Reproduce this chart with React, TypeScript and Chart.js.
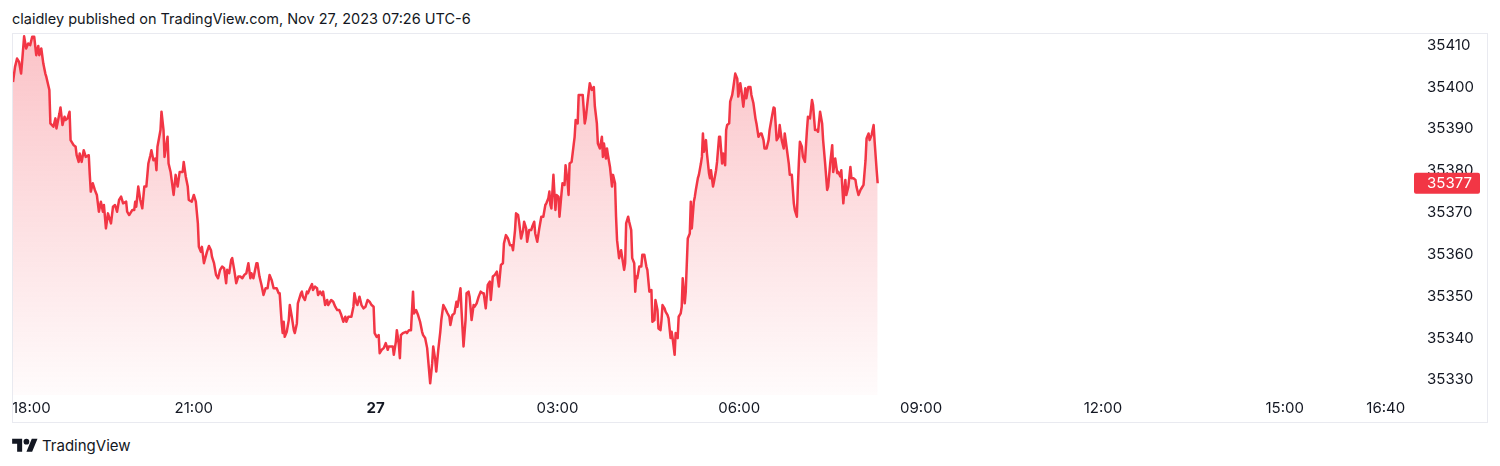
import React, { useEffect, useRef } from "react";
import { Chart, registerables } from "chart.js";

Chart.register(...registerables);

const HEADER_TEXT = "claidley published on TradingView.com, Nov 27, 2023 07:26 UTC-6";
const BRAND_TEXT = "TradingView";

// minutes elapsed since 18:00 (Nov 26)
const minutesSince1800: number[] = [
  1, 3, 5, 7, 9, 10, 12, 14, 16, 18,
  20, 22, 24, 26, 27, 29, 31, 33, 34, 37,
  38, 41, 43, 44, 47, 48, 50, 52, 53, 55,
  57, 58, 61, 63, 64, 66, 67, 69, 71, 73,
  76, 77, 78, 80, 82, 84, 86, 88, 90, 91,
  93, 95, 98, 100, 102, 104, 106, 108, 110, 113,
  114, 116, 119, 121, 122, 123, 125, 127, 129, 131,
  133, 135, 137, 138, 140, 142, 143, 144, 147, 148,
  150, 151, 154, 155, 157, 160, 162, 164, 166, 169,
  170, 172, 174, 175, 178, 180, 182, 184, 185, 187,
  188, 190, 193, 195, 197, 198, 200, 202, 204, 206,
  208, 210, 212, 213, 215, 217, 218, 220, 222, 224,
  226, 228, 230, 232, 234, 236, 237, 239, 242, 243,
  245, 247, 249, 251, 253, 255, 257, 259, 262, 264,
  265, 267, 268, 269, 270, 272, 274, 275, 277, 279,
  280, 282, 283, 286, 287, 288, 290, 292, 293, 295,
  297, 298, 300, 302, 303, 305, 307, 308, 310, 312,
  313, 316, 318, 320, 322, 324, 326, 328, 330, 331,
  333, 336, 338, 339, 341, 342, 344, 346, 348, 350,
  352, 354, 356, 358, 359, 361, 363, 364, 366, 368,
  370, 372, 373, 375, 377, 378, 380, 381, 383, 384,
  385, 387, 390, 391, 393, 395, 397, 398, 400, 402,
  404, 406, 407, 409, 411, 412, 414, 416, 417, 419,
  420, 422, 424, 425, 427, 429, 431, 433, 434, 436,
  438, 440, 441, 444, 445, 447, 449, 450, 452, 453,
  455, 457, 458, 460, 462, 464, 466, 467, 469, 471,
  473, 474, 476, 478, 480, 482, 484, 486, 487, 489,
  491, 493, 495, 496, 498, 499, 501, 502, 504, 506,
  507, 509, 510, 512, 514, 515, 517, 518, 520, 522,
  524, 526, 528, 529, 531, 532, 533, 534, 536, 537,
  538, 539, 541, 542, 544, 545, 547, 548, 550, 551,
  552, 554, 556, 557, 558, 560, 561, 563, 565, 567,
  568, 570, 572, 574, 576, 577, 579, 580, 582, 584,
  585, 586, 588, 589, 590, 592, 594, 595, 597, 598,
  599, 601, 603, 604, 606, 607, 608, 610, 611, 613,
  614, 616, 617, 618, 619, 621, 623, 624, 626, 628,
  629, 631, 633, 634, 636, 637, 639, 640, 642, 643,
  644, 646, 647, 649, 650, 652, 653, 654, 656, 657,
  659, 660, 662, 663, 664, 666, 667, 669, 671, 672,
  673, 675, 676, 677, 679, 680, 682, 683, 684, 685,
  687, 688, 690, 691, 692, 694, 695, 697, 698, 700,
  701, 703, 704, 706, 707, 708, 710, 711, 713, 714,
  716, 718, 719, 721, 722, 724, 726, 727, 729, 731,
  732, 734, 736, 737, 739, 741, 742, 744, 745, 747,
  749, 750, 752, 754, 755, 757, 759, 760, 762, 764,
  765, 767, 769, 770, 772, 774, 775, 777, 778, 779,
  780, 782, 783, 785, 787, 788, 790, 792, 793, 795,
  797, 798, 800, 802, 803, 805, 807, 808, 810, 812,
  813, 815, 817, 818, 820, 821, 823, 825, 826, 828,
  830, 831, 833, 835, 836, 838, 840, 841, 843, 845,
  846, 848, 849, 851, 853, 854, 856, 857,
];

const prices: number[] = [
  35401.2, 35404.8, 35406.8, 35406.0, 35403.2, 35406.0, 35412.1, 35409.2, 35410.4, 35410.0,
  35412.0, 35412.0, 35407.6, 35409.8, 35407.6, 35409.2, 35405.6, 35403.2, 35402.4, 35399.3,
  35391.3, 35390.5, 35392.5, 35390.1, 35393.7, 35395.1, 35390.9, 35392.9, 35392.1, 35392.5,
  35394.1, 35387.3, 35386.1, 35385.7, 35383.7, 35382.1, 35384.1, 35382.1, 35384.9, 35383.3,
  35383.7, 35379.0, 35375.0, 35377.0, 35375.4, 35374.2, 35370.2, 35372.6, 35370.2, 35371.8,
  35366.2, 35369.8, 35367.4, 35371.4, 35371.8, 35370.2, 35373.0, 35373.8, 35372.2, 35372.6,
  35370.2, 35369.4, 35370.6, 35370.6, 35372.6, 35371.4, 35376.2, 35373.0, 35371.0, 35376.2,
  35376.2, 35381.7, 35383.7, 35384.9, 35382.5, 35382.9, 35380.1, 35385.7, 35389.7, 35394.1,
  35389.7, 35383.3, 35388.1, 35381.7, 35379.7, 35374.2, 35379.0, 35376.2, 35379.7, 35379.7,
  35382.1, 35378.6, 35376.2, 35373.0, 35372.6, 35374.2, 35372.6, 35367.4, 35361.8, 35360.6,
  35361.8, 35357.9, 35360.6, 35362.0, 35361.0, 35359.4, 35357.9, 35355.1, 35354.3, 35356.3,
  35357.1, 35356.7, 35353.1, 35356.3, 35355.5, 35358.7, 35359.1, 35356.3, 35353.1, 35354.7,
  35354.7, 35354.3, 35355.1, 35355.5, 35357.9, 35354.3, 35355.5, 35354.3, 35357.9, 35357.9,
  35354.7, 35352.7, 35350.3, 35351.9, 35351.9, 35355.1, 35353.9, 35351.9, 35351.9, 35350.7,
  35350.7, 35343.5, 35341.2, 35343.9, 35340.3, 35341.5, 35344.3, 35347.9, 35345.1, 35341.9,
  35341.2, 35343.5, 35348.3, 35350.7, 35351.1, 35349.9, 35349.1, 35351.1, 35350.7, 35351.9,
  35352.9, 35351.5, 35352.3, 35351.9, 35350.3, 35351.1, 35350.3, 35351.1, 35347.9, 35349.1,
  35347.9, 35349.1, 35348.7, 35347.5, 35346.7, 35346.7, 35345.5, 35343.9, 35345.1, 35343.9,
  35345.1, 35345.1, 35347.5, 35350.7, 35348.3, 35347.9, 35349.9, 35347.9, 35347.1, 35347.5,
  35349.1, 35348.7, 35347.9, 35347.5, 35341.2, 35340.3, 35340.7, 35336.4, 35337.2, 35337.6,
  35338.8, 35337.2, 35338.0, 35338.0, 35338.0, 35336.0, 35339.1, 35341.9, 35338.4, 35335.2,
  35340.7, 35341.2, 35341.5, 35341.2, 35341.9, 35341.9, 35351.1, 35345.9, 35346.7, 35345.5,
  35343.9, 35341.5, 35340.7, 35340.0, 35337.6, 35334.8, 35329.2, 35334.0, 35338.0, 35334.8,
  35332.0, 35337.2, 35341.5, 35344.3, 35347.9, 35347.0, 35346.0, 35345.1, 35343.1, 35345.5,
  35345.9, 35348.7, 35347.5, 35351.9, 35346.7, 35338.0, 35344.3, 35350.7, 35351.1, 35349.9,
  35344.3, 35347.9, 35347.5, 35348.3, 35349.9, 35351.1, 35350.7, 35350.7, 35347.1, 35352.7,
  35353.5, 35349.1, 35354.7, 35355.1, 35355.9, 35352.3, 35357.5, 35357.9, 35362.6, 35364.6,
  35363.8, 35362.2, 35362.2, 35361.0, 35365.8, 35369.8, 35369.4, 35367.8, 35363.8, 35365.8,
  35367.8, 35366.2, 35363.0, 35365.8, 35365.8, 35366.6, 35367.8, 35365.0, 35363.0, 35366.2,
  35369.0, 35369.0, 35371.8, 35372.2, 35373.4, 35375.0, 35371.8, 35371.0, 35379.0, 35374.6,
  35370.6, 35374.2, 35373.8, 35369.0, 35374.6, 35377.0, 35376.6, 35381.3, 35377.4, 35374.2,
  35381.7, 35382.1, 35386.1, 35388.1, 35392.1, 35391.3, 35398.1, 35398.1, 35398.1, 35391.3,
  35392.5, 35396.9, 35400.9, 35399.3, 35400.0, 35395.4, 35391.3, 35386.5, 35385.3, 35388.1,
  35383.3, 35386.5, 35382.9, 35385.3, 35383.7, 35380.9, 35376.2, 35379.0, 35377.0, 35369.0,
  35363.4, 35359.1, 35361.0, 35359.4, 35356.3, 35357.9, 35367.4, 35369.0, 35367.8, 35365.8,
  35359.1, 35357.9, 35351.1, 35354.7, 35354.3, 35357.1, 35357.1, 35359.9, 35359.9, 35357.1,
  35356.3, 35351.1, 35351.5, 35343.9, 35344.3, 35349.1, 35346.7, 35342.3, 35341.9, 35344.3,
  35347.9, 35347.1, 35346.3, 35345.5, 35344.7, 35340.0, 35341.5, 35340.0, 35336.0, 35341.2,
  35340.0, 35345.1, 35345.9, 35347.5, 35354.3, 35348.3, 35351.1, 35363.8, 35365.0, 35372.6,
  35366.2, 35372.6, 35373.8, 35375.4, 35378.2, 35379.0, 35381.7, 35383.3, 35388.9, 35384.5,
  35387.3, 35384.1, 35379.4, 35378.2, 35380.1, 35376.2, 35377.4, 35380.1, 35382.1, 35388.1,
  35388.1, 35381.7, 35384.1, 35381.3, 35389.7, 35390.9, 35391.3, 35396.5, 35398.1, 35399.7,
  35403.2, 35402.0, 35397.7, 35400.9, 35399.3, 35395.3, 35399.7, 35397.3, 35400.0, 35400.0,
  35398.1, 35396.1, 35392.5, 35391.3, 35388.1, 35388.9, 35388.9, 35387.3, 35385.3, 35385.3,
  35387.3, 35389.7, 35392.5, 35395.1, 35394.9, 35387.3, 35388.1, 35390.9, 35387.3, 35385.3,
  35388.9, 35385.3, 35381.7, 35379.0, 35379.0, 35372.2, 35370.6, 35369.0, 35376.2, 35382.1,
  35386.9, 35385.7, 35383.3, 35382.1, 35389.7, 35392.9, 35392.5, 35396.9, 35395.7, 35389.7,
  35389.7, 35389.3, 35394.1, 35391.3, 35387.3, 35381.7, 35375.4, 35376.2, 35381.7, 35386.1,
  35379.7, 35382.9, 35379.4, 35379.7, 35378.6, 35380.1, 35372.2, 35377.8, 35374.2, 35376.2,
  35380.9, 35378.2, 35378.2, 35377.8, 35376.2, 35374.2, 35375.4, 35375.8, 35376.6, 35382.5,
  35387.7, 35388.9, 35387.3, 35388.5, 35390.9, 35386.9, 35380.1, 35377.0,
];

const priceTicks: number[] = [35330, 35340, 35350, 35360, 35370, 35380, 35390, 35400, 35410];
const timeTickMinutes: number[] = [0, 180, 360, 540, 720, 900, 1080, 1260, 1360];
const timeTickLabels: string[] = ["18:00", "21:00", "27", "03:00", "06:00", "09:00", "12:00", "15:00", "16:40"];
const boldTimeLabels: string[] = ["27"];
const lastPrice = 35377;

const PRICE_MIN = 35326.4;
const PRICE_MAX = 35412.9;
const TIME_MAX = 1384;

const LINE_COLOR = "#F23645";
const TEXT_COLOR = "#131722";
const FONT = "Inter, 'Noto Sans', sans-serif";
const AXIS_FONT_SIZE = 15;

const overlayPlugin = {
  id: "tvOverlay",
  afterDraw(chart: any) {
    const { ctx, chartArea, scales } = chart;
    const xs = scales.x;
    const ys = scales.y;
    ctx.save();
    ctx.fillStyle = TEXT_COLOR;
    ctx.textBaseline = "middle";
    ctx.textAlign = "center";
    timeTickMinutes.forEach((m, i) => {
      const label = timeTickLabels[i];
      const bold = boldTimeLabels.includes(label);
      ctx.font = `${bold ? "bold " : ""}${AXIS_FONT_SIZE}px ${FONT}`;
      const w = ctx.measureText(label).width;
      let x = xs.getPixelForValue(m);
      x = Math.max(x, chartArea.left + w / 2);
      ctx.fillText(label, x, chartArea.bottom + 13);
    });
    // last price badge
    const y = ys.getPixelForValue(lastPrice);
    const bx = chartArea.right + 4;
    const bw = 66;
    const bh = 21;
    ctx.fillStyle = LINE_COLOR;
    ctx.beginPath();
    if ((ctx as any).roundRect) (ctx as any).roundRect(bx, y - bh / 2, bw, bh, 2);
    else ctx.rect(bx, y - bh / 2, bw, bh);
    ctx.fill();
    ctx.fillStyle = "#FFFFFF";
    ctx.font = `${AXIS_FONT_SIZE}px ${FONT}`;
    ctx.textAlign = "left";
    ctx.fillText(String(lastPrice), chartArea.right + 17, y + 0.5);
    ctx.restore();
  },
};

export default function App() {
  const canvasRef = useRef<HTMLCanvasElement | null>(null);

  useEffect(() => {
    if (!canvasRef.current) return;
    const n = Math.min(minutesSince1800.length, prices.length);
    const points = [];
    for (let i = 0; i < n; i++) points.push({ x: minutesSince1800[i], y: prices[i] });

    const chart = new Chart(canvasRef.current, {
      type: "line",
      data: {
        datasets: [
          {
            data: points,
            borderColor: LINE_COLOR,
            borderWidth: 2.5,
            pointRadius: 0,
            tension: 0,
            borderJoinStyle: "round",
            fill: "start",
            backgroundColor: (c: any) => {
              const area = c.chart.chartArea;
              if (!area) return "rgba(242,54,69,0.15)";
              const g = c.chart.ctx.createLinearGradient(0, area.top, 0, area.bottom);
              g.addColorStop(0, "rgba(242,54,69,0.3)");
              g.addColorStop(1, "rgba(242,54,69,0.02)");
              return g;
            },
          } as any,
        ],
      },
      options: {
        animation: false,
        responsive: false,
        maintainAspectRatio: false,
        parsing: false as any,
        normalized: true,
        layout: { padding: { top: 0, left: 0, right: 0, bottom: 28 } },
        plugins: { legend: { display: false }, tooltip: { enabled: false } },
        scales: {
          x: {
            type: "linear",
            min: 0,
            max: TIME_MAX,
            display: false,
          },
          y: {
            type: "linear",
            position: "right",
            min: PRICE_MIN,
            max: PRICE_MAX,
            grid: { display: false, drawTicks: false },
            border: { display: false },
            afterBuildTicks: (scale: any) => {
              scale.ticks = priceTicks.map((v) => ({ value: v }));
            },
            afterFit: (scale: any) => {
              scale.width = 78;
              scale.paddingTop = 0;
              scale.paddingBottom = 0;
            },
            ticks: {
              padding: 17,
              color: TEXT_COLOR,
              font: { family: FONT, size: AXIS_FONT_SIZE },
              callback: (v: any) => String(v),
            },
          },
        },
      },
      plugins: [overlayPlugin],
    });
    return () => chart.destroy();
  }, []);

  return (
    <div
      style={{
        position: "absolute",
        left: 0,
        top: 0,
        width: 1500,
        height: 466,
        background: "#FFFFFF",
        fontFamily: FONT,
        color: TEXT_COLOR,
        overflow: "hidden",
      }}
    >
      <div
        style={{
          position: "absolute",
          left: 12,
          top: 9,
          fontSize: 14.5,
          lineHeight: "20px",
          whiteSpace: "nowrap",
        }}
      >
        {HEADER_TEXT}
      </div>
      <canvas
        ref={canvasRef}
        width={1476}
        height={390}
        style={{ position: "absolute", left: 12, top: 33, width: 1476, height: 390 }}
      />
      <div
        style={{
          position: "absolute",
          left: 12,
          top: 33,
          width: 1476,
          height: 390,
          boxSizing: "border-box",
          border: "1px solid #E9EAF0",
          pointerEvents: "none",
        }}
      />
      <div
        style={{
          position: "absolute",
          left: 12,
          top: 436,
          display: "flex",
          alignItems: "center",
          gap: 4,
        }}
      >
        <svg width="26" height="20" viewBox="0 0 36 28" style={{ display: "block" }}>
          <path d="M14 22H7V11H0V4h14v18zM28 22h-8l7.5-18h8L28 22z" fill={TEXT_COLOR} />
          <circle cx="20" cy="8" r="4" fill={TEXT_COLOR} />
        </svg>
        <span style={{ fontSize: 15, lineHeight: "20px" }}>{BRAND_TEXT}</span>
      </div>
    </div>
  );
}
